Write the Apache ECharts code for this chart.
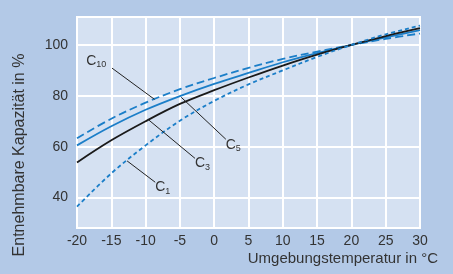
<!DOCTYPE html>
<html><head><meta charset="utf-8">
<script src="https://cdn.jsdelivr.net/npm/echarts@6/dist/echarts.min.js"></script>
<style>html,body{margin:0;padding:0;background:#b3c9e7}#c{width:453px;height:274px}</style>
</head><body><div id="c"></div>
<script>
const temps = [-20, -15, -10, -5, 0, 5, 10, 15, 20, 25, 30];
const c10 = [63.3, 71.0, 77.3, 82.6, 87.0, 91.0, 94.5, 97.4, 100, 102.4, 104.5];
const c5  = [60.5, 68.0, 74.5, 79.9, 84.7, 89.0, 93.2, 96.8, 100, 103.0, 105.8];
const c3  = [53.8, 62.5, 70.0, 76.8, 82.2, 87.2, 91.9, 96.2, 100, 103.5, 106.6];
const c1  = [36.4, 49.5, 60.5, 70.2, 78.0, 84.5, 90.0, 95.3, 100, 104.2, 107.6];
const xTicks = [-20, -15, -10, -5, 0, 5, 10, 15, 20, 25, 30];
const yTicks = [40, 60, 80, 100];
// leader lines (data coords): [curve point, label end point], subscript text
const leaders = {
  c10: [[-8.7, 78.6], [-14.9, 90.9], '10'],
  c5:  [[-4.8, 79.4], [1.7, 62.9], '5'],
  c3:  [[-9.5, 70.4], [-2.8, 55.4], '3'],
  c1:  [[-12.7, 54.4], [-8.6, 46.0], '1']
};

const BLUE = '#1b7ec8';
const FONT = 'Liberation Sans';
function pts(arr){ return temps.map((t,i)=>[t,arr[i]]); }
function lead(key, labelPos, offset){
  const L = leaders[key];
  return {
    silent: true, symbol: 'none', animation: false,
    lineStyle: {color: '#222', width: 1, type: 'solid'},
    label: {show: true, position: labelPos, distance: 2, offset: offset,
      formatter: 'C{s|' + L[2] + '}', color: '#333', fontFamily: FONT, fontSize: 14,
      rich: {s: {fontSize: 9, fontFamily: FONT, color: '#333', padding: [8,0,0,0]}}},
    emphasis: {disabled: true},
    data: [[{coord: L[0]}, {coord: L[1]}]]
  };
}
function series(name, arr, color, type, key, labelPos, offset){
  return {name, type: 'line', data: pts(arr), smooth: 0.35, showSymbol: false, symbol: 'none',
    lineStyle: {color, width: 1.8, type}, animation: false, z: 3,
    markLine: lead(key, labelPos, offset)};
}
const chart = echarts.init(document.getElementById('c'), null, {renderer: 'canvas'});
chart.setOption({
  backgroundColor: '#b3c9e7',
  animation: false,
  grid: {left: 77, right: 33, top: 17, bottom: 46, show: true,
    backgroundColor: '#d5e1f2', borderColor: '#ffffff', borderWidth: 2},
  xAxis: {type: 'value', min: xTicks[0], max: xTicks[xTicks.length-1], interval: 5,
    axisLine: {show: false}, axisTick: {show: false},
    splitLine: {show: true, lineStyle: {color: '#ffffff', width: 2}},
    axisLabel: {color: '#333', fontFamily: FONT, fontSize: 14, margin: 6}},
  yAxis: {type: 'value', min: 28, max: 111, splitNumber: 4,
    axisLine: {show: false}, axisTick: {show: false},
    splitLine: {show: true, lineStyle: {color: '#ffffff', width: 2}},
    axisLabel: {color: '#333', fontFamily: FONT, fontSize: 14, margin: 9,
      showMinLabel: false, showMaxLabel: false,
      formatter: v => yTicks.includes(v) ? String(v) : ''}},
  graphic: [
    {type: 'text', x: 20, y: 155, rotation: Math.PI/2,
     style: {text: 'Entnehmbare Kapazität in %', fill: '#333', font: '16px "Liberation Sans"',
       align: 'center', verticalAlign: 'middle'}},
    {type: 'text', x: 438, y: 259,
     style: {text: 'Umgebungstemperatur in °C', fill: '#333', font: '15px "Liberation Sans"',
       align: 'right', verticalAlign: 'middle'}}
  ],
  series: [
    series('C10', c10, BLUE, [8,4], 'c10', 'end', [-4, -6]),
    series('C5', c5, BLUE, 'solid', 'c5', 'end', [6, 4]),
    series('C3', c3, '#1a1a1a', 'solid', 'c3', 'end', [6, 4]),
    series('C1', c1, BLUE, [4,3], 'c1', 'end', [6, 4])
  ]
});
</script></body></html>
